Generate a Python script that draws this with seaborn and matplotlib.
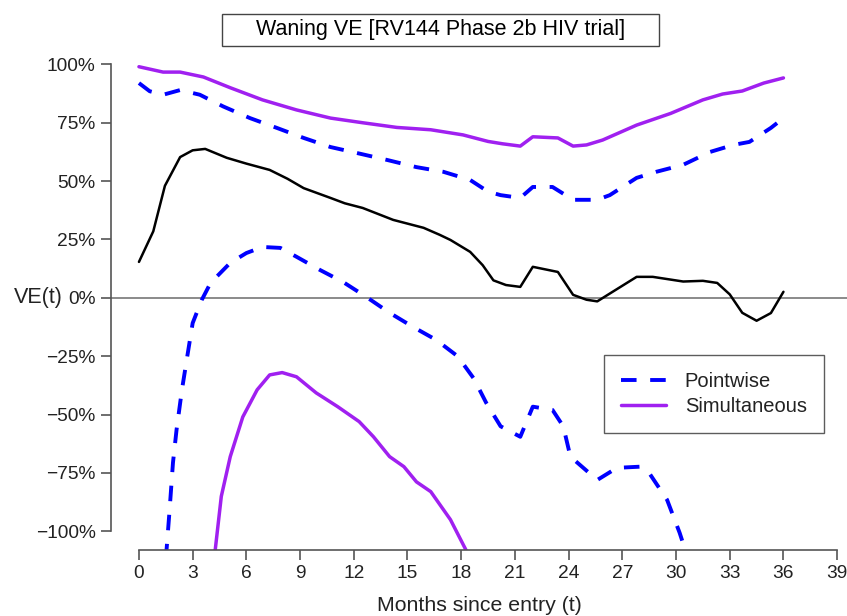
import matplotlib
matplotlib.use("Agg")
import matplotlib.pyplot as plt
from matplotlib.lines import Line2D
from matplotlib.patches import Rectangle
import seaborn as sns

# ---- data ----
t_est = [0, 0.8, 1.45, 2.3, 3.0, 3.7, 4.9, 6.0, 7.3, 8.3, 9.2, 10.7, 11.5, 12.5,
         14.2, 15.9, 16.8, 17.4, 18.5, 19.2, 19.8, 20.5, 21.3, 22.0, 23.4, 24.25,
         25.0, 25.6, 26.5, 27.8, 28.7, 30.4, 31.5, 32.3, 33.0, 33.7, 34.5, 35.3, 36.0]
ve_est = [15.4, 28.5, 48, 60.3, 63.2, 63.8, 60, 57.5, 54.8, 51, 47, 42.8, 40.5, 38.5,
          33.4, 30, 27, 24.8, 19.7, 14, 7.5, 5.5, 4.7, 13.3, 11.1, 1.3,
          -0.8, -1.5, 2.8, 9, 9, 7, 7.3, 6.4, 1.5, -6.4, -9.8, -6.5, 2.6]

t_sim_up = [0, 1.35, 2.3, 3.6, 5.1, 6.9, 8.8, 10.7, 12.5, 14.4, 16.3, 18.1, 19.5, 20.3,
            21.3, 22.0, 23.4, 24.25, 25.0, 25.9, 27.8, 29.7, 31.5, 32.6, 33.7, 34.9, 36.0]
ve_sim_up = [99, 96.7, 96.7, 94.6, 90, 84.8, 80.5, 77, 75, 73, 72, 69.8, 67, 66,
             65, 69, 68.5, 65, 65.5, 67.6, 74, 79, 84.8, 87.3, 88.6, 92, 94.2]

t_pw_up = [0, 0.6, 1.35, 2.3, 3.4, 4.7, 6.2, 7.7, 9.2, 10.7, 12.2, 13.9, 15.5, 17.0,
           18.5, 19.5, 20.2, 21.3, 22.0, 23.1, 24.25, 25.6, 26.3, 27.8, 28.9, 30.4,
           31.9, 33.2, 34.1, 35.3, 36.0]
ve_pw_up = [92, 88.5, 87, 89, 87, 82, 77, 72.8, 68.5, 64.6, 62, 59, 56, 54,
            50.5, 45.5, 44, 42.8, 47.5, 47.5, 42, 42, 44, 51.4, 54, 57,
            62.5, 65.5, 66.8, 72.8, 77]

t_pw_lo = [1.5, 1.7, 1.9, 2.1, 2.4, 2.7, 3.0, 3.5, 4.0, 5.1, 6.0, 6.9, 7.9, 8.8, 10.1,
           11.4, 12.7, 14.0, 15.3, 16.6, 17.8, 18.7, 19.4, 20.2, 21.3, 22.0, 23.1,
           23.7, 24.1, 25.6, 26.7, 28.0, 28.5, 29.5, 30.2, 30.6]
ve_pw_lo = [-112, -92, -70.6, -56.5, -39.4, -25, -10.8, -1, 6.4, 15, 19.2, 21.8, 21.4,
            17.6, 12, 6.8, 0.4, -6.4, -12.4, -18, -25, -34.5, -45, -55, -59.5, -46.6,
            -48, -55, -68, -78, -72.8, -72.3, -75, -86.5, -100.6, -110]

t_sim_lo = [4.2, 4.6, 5.1, 5.8, 6.6, 7.3, 8.0, 8.8, 9.9, 11.1, 12.3, 13.1, 14.0, 14.8,
            15.5, 16.3, 17.4, 18.4]
ve_sim_lo = [-112, -85, -68, -51, -39.4, -33, -32, -33.8, -40.7, -46.6, -53, -59.5,
             -68, -72.3, -78.8, -83, -95, -110]

x_ticks = list(range(0, 40, 3))
y_ticks = [-100, -75, -50, -25, 0, 25, 50, 75, 100]
y_tick_labels = ["\u2212100%", "\u221275%", "\u221250%", "\u221225%", "0%",
                 "25%", "50%", "75%", "100%"]
legend_labels = ["Pointwise", "Simultaneous"]
title = "Waning VE [RV144 Phase 2b HIV trial]"
x_label = "Months since entry (t)"
y_label = "VE(t)"

# ---- style ----
sns.set_style("white")
plt.rcParams["font.family"] = ["Liberation Sans", "DejaVu Sans"]

BLUE = "#0000FF"
PURPLE = "#A020F0"
AXC = "#555555"
TXT = "#222222"

fig = plt.figure(figsize=(8.47, 6.16), dpi=100)
ax = fig.add_axes([0.131, 0.1071, 0.869, 0.8187])

ax.axhline(0, color="#777777", lw=1.2, zorder=1)

dash = (0, (4, 3.5))
sns.lineplot(x=t_pw_up, y=ve_pw_up, ax=ax, color=BLUE, lw=2.8, linestyle=dash)
sns.lineplot(x=t_pw_lo, y=ve_pw_lo, ax=ax, color=BLUE, lw=2.8, linestyle=dash)
sns.lineplot(x=t_sim_up, y=ve_sim_up, ax=ax, color=PURPLE, lw=2.5)
sns.lineplot(x=t_sim_lo, y=ve_sim_lo, ax=ax, color=PURPLE, lw=2.5)
sns.lineplot(x=t_est, y=ve_est, ax=ax, color="black", lw=1.8)

ax.set_xlim(-1.564, 39.55)
ax.set_ylim(-108, 108)

ax.set_xticks(x_ticks)
ax.set_xticklabels([str(v) for v in x_ticks])
ax.set_yticks(y_ticks)
ax.set_yticklabels(y_tick_labels)
ax.tick_params(axis="both", direction="out", length=7, width=1.2, color=AXC,
               labelsize=13.8, labelcolor=TXT, pad=4, left=True, bottom=True)

for side in ["top", "right"]:
    ax.spines[side].set_visible(False)
for side in ["left", "bottom"]:
    ax.spines[side].set_color(AXC)
    ax.spines[side].set_linewidth(1.2)
ax.spines["left"].set_bounds(-100, 100)
ax.spines["bottom"].set_bounds(0, 39)

ax.set_xlabel(x_label, fontsize=15.3, color=TXT, labelpad=10)
ax.set_ylabel(y_label, fontsize=15.5, color=TXT, rotation=0, ha="right", va="center")
ax.yaxis.set_label_coords(-0.066, 0.5)

handles = [Line2D([], [], color=BLUE, lw=2.8, linestyle=dash),
           Line2D([], [], color=PURPLE, lw=2.5)]
leg = ax.legend(handles, legend_labels, loc="upper left", bbox_to_anchor=(0.67, 0.387),
                frameon=True, fancybox=False, fontsize=14.5, handlelength=2.2,
                borderpad=0.85, labelspacing=0.3, handletextpad=0.95, borderaxespad=0)
leg.get_frame().set_edgecolor("#333333")
leg.get_frame().set_linewidth(1.0)
for t in leg.get_texts():
    t.set_color(TXT)

# title box
fig.patches.append(Rectangle((222 / 847, 1 - 46 / 616), 437 / 847, 32 / 616,
                             transform=fig.transFigure, fc="white", ec="#444444",
                             lw=1.0, zorder=0))
fig.text(440.5 / 847, 1 - 30 / 616, title, ha="center", va="center",
         fontsize=15.5, color="black")

fig.savefig("out.png", dpi=100)
